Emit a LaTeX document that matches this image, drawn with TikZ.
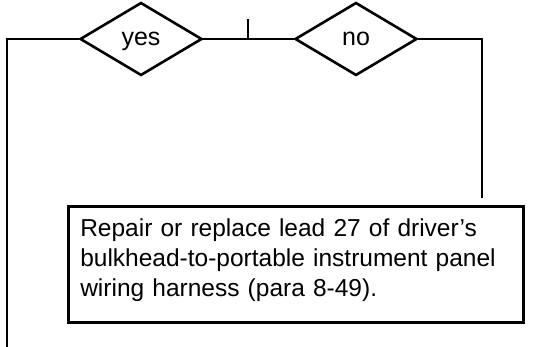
\documentclass[tikz,border=0pt]{standalone}
\usepackage{fontspec}
\setmainfont{Liberation Sans}
\usepackage{tikz}
\usetikzlibrary{positioning,shapes.geometric}
\tikzset{
  wire/.style={line width=2.2pt},
  decision/.style={draw, diamond, line width=2.6pt, inner sep=0pt, minimum width=122pt, minimum height=73pt, text depth=0pt, font=\fontsize{25}{30}\selectfont},
  actionbox/.style={draw, rectangle, line width=2.6pt, text width=431pt, inner xsep=12pt, inner ysep=0pt, minimum height=116pt, text depth=74pt, align=left, font=\fontsize{24.5}{30}\selectfont}
}
\begin{document}
\begin{tikzpicture}[x=1pt, y=1pt]
      \useasboundingbox (0,0) rectangle (546,347);
      \node[decision] (yes) at (141,308) {yes};
      \node[decision] (no) at (356,308) {no};
      \node[actionbox, anchor=north west] (repair) at (67,142) {Repair or replace lead 27 of driver's\\bulkhead-to-portable instrument panel\\wiring harness (para 8-49).};
      \coordinate (leftcorner) at (7,308);
      \coordinate (leftend) at (7,0);
      \coordinate (rightcorner) at (482,308);
      \coordinate (rightend) at (482,149);
      \coordinate (tickbase) at (248,308);
      \coordinate (ticktop) at (248,328);
      \draw[wire] (yes.west) -- (leftcorner) -- (leftend);
      \draw[wire] (yes.east) -- (no.west);
      \draw[wire] (tickbase) -- (ticktop);
      \draw[wire] (no.east) -- (rightcorner) -- (rightend);
    \end{tikzpicture}
\end{document}
